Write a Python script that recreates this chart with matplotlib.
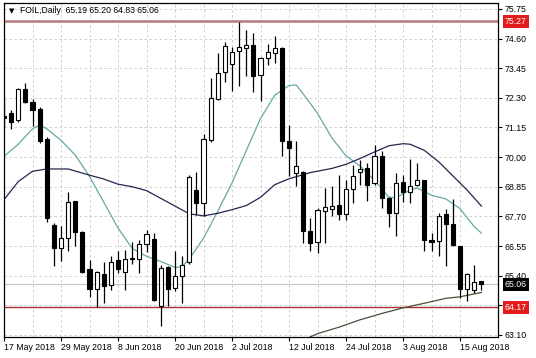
import matplotlib.pyplot as plt
import numpy as np
from matplotlib.transforms import blended_transform_factory

plt.rcParams['font.family'] = ['Liberation Sans', 'DejaVu Sans']

# FOIL daily OHLC, 17 May 2018 .. 20 Aug 2018
opens = [71.60, 71.71, 71.45, 72.64, 72.12, 71.87, 70.70, 67.35, 66.47, 66.86,
         68.28, 67.09, 65.66, 64.89, 65.48, 65.03, 66.01, 65.54, 66.08, 66.05,
         66.63, 66.83, 64.21, 65.74, 64.92, 65.37, 65.93, 68.73, 68.22, 70.67,
         72.25, 73.32, 73.61, 74.10, 74.23, 74.35, 73.19, 73.84, 74.03, 74.23,
         70.61, 69.40, 69.42, 67.12, 66.69, 67.92, 67.99, 68.15, 67.79, 68.76,
         69.41, 69.57, 68.99, 70.05, 68.41, 67.85, 69.02, 68.63, 68.93, 69.10,
         66.80, 66.73, 67.79, 67.42, 66.54, 64.89, 64.83, 65.19]
highs = [72.30, 71.84, 72.68, 72.89, 72.25, 71.96, 70.78, 67.44, 67.31, 68.63,
         68.30, 67.12, 66.02, 65.57, 65.92, 66.15, 66.34, 66.41, 66.69, 66.80,
         67.19, 67.06, 65.83, 65.79, 66.34, 66.15, 69.30, 69.44, 70.89, 73.06,
         74.03, 74.46, 74.27, 75.26, 74.94, 74.81, 73.90, 74.38, 74.70, 74.27,
         71.25, 70.61, 69.45, 67.64, 68.02, 68.80, 68.86, 69.32, 69.12, 69.70,
         69.90, 69.77, 70.48, 70.22, 68.45, 69.38, 69.32, 69.92, 69.77, 69.12,
         67.06, 67.83, 67.99, 68.39, 66.56, 65.51, 65.80, 65.20]
lows = [71.15, 71.09, 71.38, 72.10, 71.19, 70.54, 67.47, 65.79, 65.96, 66.34,
        66.56, 65.50, 64.58, 64.19, 64.34, 64.86, 65.51, 64.86, 65.87, 65.51,
        66.31, 64.40, 63.44, 64.21, 64.79, 64.34, 65.85, 67.77, 67.71, 70.57,
        72.20, 72.93, 72.57, 72.77, 73.13, 72.54, 72.18, 73.58, 73.65, 70.03,
        69.25, 68.86, 66.67, 66.34, 66.28, 66.67, 67.70, 67.57, 67.57, 68.22,
        68.93, 68.28, 68.93, 68.02, 67.29, 66.92, 68.24, 68.22, 68.86, 66.34,
        66.34, 66.15, 65.76, 66.56, 64.54, 64.40, 64.73, 64.83]
closes = [71.50, 71.38, 72.65, 72.12, 71.81, 70.64, 67.64, 66.47, 66.86, 68.24,
          67.09, 65.53, 64.89, 65.53, 64.99, 65.93, 65.66, 66.06, 66.04, 66.63,
          67.02, 64.47, 65.70, 64.89, 65.37, 65.83, 69.21, 68.22, 70.70, 72.31,
          73.28, 74.32, 74.07, 74.29, 74.35, 73.13, 73.84, 74.06, 74.23, 70.61,
          70.35, 69.64, 67.12, 66.67, 67.96, 68.05, 68.09, 67.80, 68.76, 69.28,
          69.55, 68.93, 70.05, 68.41, 67.85, 68.99, 68.63, 68.89, 69.10, 66.80,
          66.69, 67.73, 67.42, 66.60, 64.89, 65.47, 65.16, 65.06]

# moving averages (bar index, value)
ma_fast_idx = [0, 2, 4, 5, 6, 8, 10, 12, 14, 16, 18, 20, 22, 24, 25, 26, 28, 30, 32, 34,
               36, 38, 40, 41, 42, 44, 46, 48, 50, 52, 54, 55, 57, 58, 60, 62, 64, 66, 67]
ma_fast = [70.03, 70.50, 71.10, 71.24, 71.10, 70.65, 70.08, 69.25, 68.25, 67.25,
           66.45, 66.15, 65.95, 65.72, 65.75, 66.05, 66.85, 67.90, 69.00, 70.25,
           71.50, 72.40, 72.78, 72.80, 72.45, 71.70, 70.75, 70.05, 69.65, 69.10,
           68.45, 68.42, 68.73, 68.80, 68.52, 68.38, 68.00, 67.30, 67.05]
ma_mid_idx = [0, 2, 4, 6, 9, 12, 14, 16, 18, 20, 22, 24, 26, 28, 30, 32, 34, 36, 38,
              40, 43, 46, 48, 50, 52, 54, 56, 57, 59, 61, 63, 65, 67]
ma_mid = [68.35, 69.05, 69.45, 69.54, 69.54, 69.30, 69.15, 68.95, 68.85, 68.70,
          68.40, 68.10, 67.80, 67.72, 67.82, 67.96, 68.12, 68.44, 68.93, 69.16,
          69.40, 69.56, 69.72, 69.95, 70.20, 70.44, 70.52, 70.50, 70.26, 69.82,
          69.27, 68.72, 68.10]
ma_slow_idx = [42, 44, 47, 50, 53, 56, 59, 62, 64, 67]
ma_slow = [62.90, 63.15, 63.40, 63.69, 63.93, 64.15, 64.33, 64.52, 64.58, 64.75]

resistance = 75.27
support = 64.17
last_price = 65.06

date_labels = ['17 May 2018', '29 May 2018', '8 Jun 2018', '20 Jun 2018', '2 Jul 2018',
               '12 Jul 2018', '24 Jul 2018', '3 Aug 2018', '15 Aug 2018']
price_ticks = [63.10, 64.25, 65.40, 66.55, 67.70, 68.85, 70.00, 71.15, 72.30, 73.45, 74.60, 75.75]

fig = plt.figure(figsize=(5.36, 3.58), dpi=100)
ax = fig.add_axes([4 / 536, 21 / 358, 494 / 536, 334 / 358])

x = np.arange(len(opens))
o = np.array(opens); c = np.array(closes)
up = c >= o
ax.vlines(x, lows, highs, color='black', lw=0.9, zorder=3)
bottom = np.minimum(o, c)
height = np.maximum(np.abs(c - o), 0.03)
ax.bar(x[up], height[up], bottom=bottom[up], width=0.58, color='white',
       edgecolor='black', linewidth=0.8, zorder=4)
ax.bar(x[~up], height[~up], bottom=bottom[~up], width=0.58, color='black',
       edgecolor='black', linewidth=0.8, zorder=4)

ax.plot(ma_fast_idx, ma_fast, color='#63aaa8', lw=0.9, zorder=2)
ax.plot(ma_mid_idx, ma_mid, color='#25254f', lw=0.9, zorder=2)
ax.plot(ma_slow_idx, ma_slow, color='#445236', lw=0.9, zorder=2)

ax.axhline(resistance, color='#b47c7c', lw=1.8, zorder=1)
ax.axhline(support, color='#a83232', lw=1.0, zorder=1)
ax.axhline(last_price, color='#c4c4c4', lw=0.8, zorder=1)

ax.set_xlim(0, 69.33)
ax.set_ylim(63.02, 75.98)

ax.set_xticks(x[::8])
ax.set_xticklabels(date_labels, ha='left', fontsize=6.3)
ax.set_xticks(x[::4], minor=True)
ax.tick_params(axis='x', which='minor', length=0)
ax.tick_params(axis='x', which='major', length=3, pad=1.5, direction='out')

ax.yaxis.tick_right()
ax.set_yticks(price_ticks)
ax.set_yticklabels(['63.10', '', '65.40', '66.55', '67.70', '68.85', '70.00', '71.15',
                    '72.30', '73.45', '74.60', '75.75'], fontsize=6.3)
ax.tick_params(axis='y', length=3, pad=2, direction='out')

ax.grid(True, which='both', color='#c8c8c8', ls=(0, (3, 3)), lw=0.6)
ax.set_axisbelow(True)
for s in ax.spines.values():
    s.set_color('black')
    s.set_linewidth(0.9)

trans = blended_transform_factory(ax.transAxes, ax.transData)
for val, bg in [(resistance, '#e31b1b'), (support, '#e31b1b'), (last_price, 'black')]:
    ax.text(1.014, val, f'{val:.2f}', transform=trans, fontsize=6.3, color='white',
            va='center', ha='left', clip_on=False,
            bbox=dict(boxstyle='square,pad=0.25', fc=bg, ec='none'))

ax.text(0.01, 0.985, '\u25bc', transform=ax.transAxes, fontsize=5, va='top',
        family=['DejaVu Sans'])
ax.text(0.032, 0.99, 'FOIL,Daily  65.19 65.20 64.83 65.06', transform=ax.transAxes,
        fontsize=6.2, va='top')

fig.savefig('out.png', dpi=100)
